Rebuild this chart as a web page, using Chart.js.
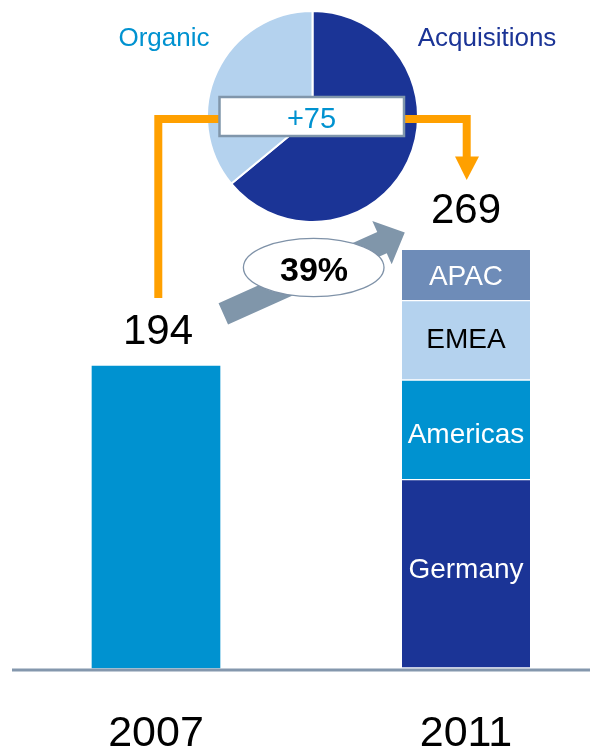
<!DOCTYPE html>
<html>
<head>
<meta charset="utf-8">
<script src="https://cdn.jsdelivr.net/npm/chart.js@4/dist/chart.umd.min.js"></script>
<style>
  body { margin: 0; background: #fff; }
  #wrap { position: relative; width: 590px; height: 752px; }
  #wrap canvas { position: absolute; left: 0; top: 0; }
</style>
</head>
<body>
<div id="wrap">
  <canvas id="barChart" width="590" height="752"></canvas>
  <canvas id="pieChart" width="590" height="752"></canvas>
</div>
<script>
// data
const years = ['2007', '2011'];
const total2007 = [194, null];
const regions = ['Germany', 'Americas', 'EMEA', 'APAC'];
const regions2011 = [121, 64, 51, 33];
const growthParts = ['Acquisitions', 'Organic'];
const growthValues = [48, 27];

const BLUE = '#0092D0';
const NAVY = '#1B3496';
const LIGHT = '#B4D2EE';
const STEEL = '#6E8CB8';
const GREY = '#8096AA';
const ORANGE = '#FFA000';
const FONT = '"Liberation Sans", Arial, sans-serif';

Chart.defaults.font.family = FONT;

const regionColors = [NAVY, BLUE, LIGHT, STEEL];
const regionText = ['#fff', '#fff', '#000', '#fff'];
// small nudges so labels sit where the original puts them
const labelNudge = [-5, 4, -1, 1];

const total2011 = regions2011.reduce((a, b) => a + b, 0);

// bars: value labels, segment labels, axis line, growth arrow
const barDecor = {
  id: 'barDecor',
  afterDatasetsDraw(chart) {
    const ctx = chart.ctx;
    const x = chart.scales.x;
    const y = chart.scales.y;
    ctx.save();

    // axis line
    ctx.strokeStyle = '#8497AD';
    ctx.lineWidth = 3;
    ctx.beginPath();
    ctx.moveTo(12, y.getPixelForValue(0) + 2);
    ctx.lineTo(590, y.getPixelForValue(0) + 2);
    ctx.stroke();

    // segment labels
    ctx.font = '28px ' + FONT;
    ctx.textAlign = 'center';
    ctx.textBaseline = 'middle';
    regions.forEach((r, i) => {
      const bar = chart.getDatasetMeta(i + 1).data[1];
      ctx.fillStyle = regionText[i];
      ctx.fillText(r, bar.x, (bar.y + bar.base) / 2 + 1 + labelNudge[i]);
    });

    // totals above bars
    ctx.font = '42px ' + FONT;
    ctx.fillStyle = '#000';
    ctx.textBaseline = 'alphabetic';
    ctx.fillText(String(total2007[0]), x.getPixelForValue(0) + 2, y.getPixelForValue(total2007[0]) - 22);
    ctx.fillText(String(total2011), x.getPixelForValue(1), y.getPixelForValue(total2011) - 26);

    // growth arrow
    const T = [223.3, 313.8];
    const d = [0.912, -0.409], n = [0.409, 0.912];
    const w = 11.6, h = 23.7, shaft = 174, head = 25;
    const N = [T[0] + shaft * d[0], T[1] + shaft * d[1]];
    const tip = [N[0] + head * d[0], N[1] + head * d[1]];
    ctx.fillStyle = GREY;
    ctx.beginPath();
    ctx.moveTo(T[0] + w * n[0], T[1] + w * n[1]);
    ctx.lineTo(N[0] + w * n[0], N[1] + w * n[1]);
    ctx.lineTo(N[0] + h * n[0], N[1] + h * n[1]);
    ctx.lineTo(tip[0], tip[1]);
    ctx.lineTo(N[0] - h * n[0], N[1] - h * n[1]);
    ctx.lineTo(N[0] - w * n[0], N[1] - w * n[1]);
    ctx.lineTo(T[0] - w * n[0], T[1] - w * n[1]);
    ctx.closePath();
    ctx.fill();

    // ellipse with growth %
    ctx.beginPath();
    ctx.ellipse(313.7, 267.5, 70.3, 29.2, 0, 0, Math.PI * 2);
    ctx.fillStyle = '#fff';
    ctx.fill();
    ctx.strokeStyle = '#7F92A8';
    ctx.lineWidth = 1.3;
    ctx.stroke();
    const pct = Math.round((total2011 - total2007[0]) / total2007[0] * 100);
    ctx.font = 'bold 34px ' + FONT;
    ctx.fillStyle = '#000';
    ctx.fillText(pct + '%', 314, 281);

    ctx.restore();
  }
};

const datasets = [{
  label: years[0],
  data: total2007,
  backgroundColor: BLUE,
  borderWidth: 0
}].concat(regions.map((r, i) => ({
  label: r,
  data: [null, regions2011[i]],
  backgroundColor: regionColors[i],
  borderColor: '#fff',
  borderWidth: { top: 1, bottom: 1, left: 0, right: 0 },
  borderSkipped: false
})));

const barChart = new Chart(document.getElementById('barChart'), {
  type: 'bar',
  data: { labels: years, datasets: datasets },
  options: {
    responsive: false,
    animation: false,
    clip: false,
    barThickness: 128,
    layout: { padding: { left: 156, right: 124, top: 201, bottom: 0 } },
    scales: {
      x: {
        stacked: true,
        offset: false,
        grid: { display: false, drawTicks: false },
        border: { display: false },
        ticks: { color: '#000', font: { size: 43 }, padding: 40 },
        afterFit: scale => { scale.height = 84; }
      },
      y: { stacked: true, display: false, min: 0, max: 300 }
    },
    plugins: { legend: { display: false }, tooltip: { enabled: false } }
  },
  plugins: [barDecor]
});

// pie: connectors, +75 box, slice labels
const pieDecor = {
  id: 'pieDecor',
  afterDraw(chart) {
    const ctx = chart.ctx;
    ctx.save();

    ctx.font = '26px ' + FONT;
    ctx.textAlign = 'center';
    ctx.textBaseline = 'alphabetic';
    ctx.fillStyle = BLUE;
    ctx.fillText(growthParts[1], 164, 46);
    ctx.fillStyle = NAVY;
    ctx.fillText(growthParts[0], 487, 46);

    // orange connectors
    ctx.strokeStyle = ORANGE;
    ctx.lineWidth = 8;
    ctx.lineJoin = 'miter';
    ctx.lineCap = 'butt';
    ctx.beginPath();
    ctx.moveTo(158.3, 298);
    ctx.lineTo(158.3, 119);
    ctx.lineTo(222, 119);
    ctx.stroke();
    ctx.beginPath();
    ctx.moveTo(402, 119);
    ctx.lineTo(466.7, 119);
    ctx.lineTo(466.7, 158);
    ctx.stroke();
    ctx.fillStyle = ORANGE;
    ctx.beginPath();
    ctx.moveTo(455, 156.5);
    ctx.lineTo(479, 156.5);
    ctx.lineTo(466.7, 180);
    ctx.closePath();
    ctx.fill();

    // +75 box
    ctx.fillStyle = '#fff';
    ctx.fillRect(219.5, 97, 184.5, 39);
    ctx.strokeStyle = '#8096AB';
    ctx.lineWidth = 2.5;
    ctx.strokeRect(219.5, 97, 184.5, 39);
    const added = growthValues.reduce((a, b) => a + b, 0);
    ctx.font = '29px ' + FONT;
    ctx.fillStyle = BLUE;
    ctx.fillText('+' + added, 311.5, 128);

    ctx.restore();
  }
};

new Chart(document.getElementById('pieChart'), {
  type: 'pie',
  data: {
    labels: growthParts,
    datasets: [{
      data: growthValues,
      backgroundColor: [NAVY, LIGHT],
      borderColor: '#fff',
      borderWidth: 2
    }]
  },
  options: {
    responsive: false,
    animation: false,
    layout: { padding: { left: 206, right: 171, top: 10, bottom: 529 } },
    plugins: { legend: { display: false }, tooltip: { enabled: false } }
  },
  plugins: [pieDecor]
});
</script>
</body>
</html>
